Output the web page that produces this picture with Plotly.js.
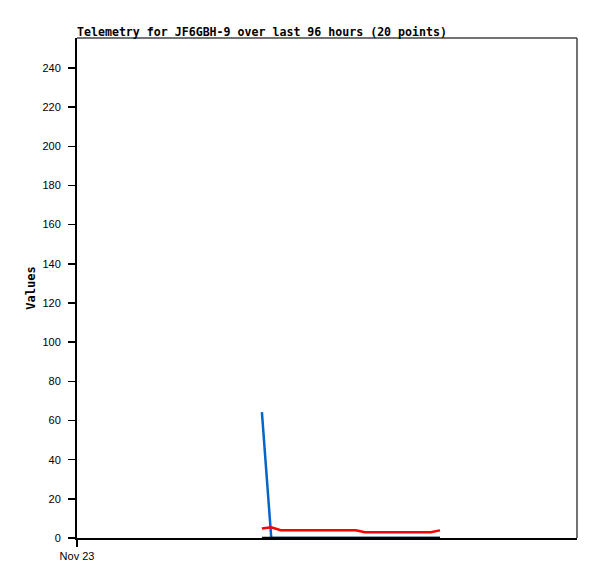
<!DOCTYPE html>
<html>
<head>
<meta charset="utf-8">
<script src="https://cdn.plot.ly/plotly-3.0.1.min.js"></script>
<style>html,body{margin:0;padding:0;background:#fff;}#chart{width:597px;height:579px;}</style>
</head>
<body>
<div id="chart"></div>
<script>
// Timestamps of the 20 telemetry points
const times = [
  "2023-11-24 11:30", "2023-11-24 13:18", "2023-11-24 15:06", "2023-11-24 16:54",
  "2023-11-24 18:42", "2023-11-24 20:30", "2023-11-24 22:18", "2023-11-25 00:06",
  "2023-11-25 01:54", "2023-11-25 03:42", "2023-11-25 05:30", "2023-11-25 07:18",
  "2023-11-25 09:06", "2023-11-25 10:54", "2023-11-25 12:42", "2023-11-25 14:30",
  "2023-11-25 16:18", "2023-11-25 18:06", "2023-11-25 19:54", "2023-11-25 21:42"
];
const blueValues = [64.3, 0, 0, 0, 0, 0, 0, 0, 0, 0, 0, 0, 0, 0, 0, 0, 0, 0, 0, 0];
const redValues  = [4.8, 5.5, 4.0, 3.9, 3.9, 3.9, 3.9, 3.9, 3.9, 3.9, 3.9, 2.9, 2.9, 2.9, 2.9, 2.9, 2.9, 2.9, 2.9, 3.9];
const blackValues = [0, 0, 0, 0, 0, 0, 0, 0, 0, 0, 0, 0, 0, 0, 0, 0, 0, 0, 0, 0];
const yTicks = [0, 20, 40, 60, 80, 100, 120, 140, 160, 180, 200, 220, 240];
const xTickVals = ["2023-11-23 00:00"];
const xTickText = ["Nov 23"];
const xRange = ["2023-11-23 00:00", "2023-11-27 00:00"];
const yRange = [0, 255.3];
const titleText = "Telemetry for JF6GBH-9 over last 96 hours (20 points)";
const yTitle = "Values";

const traces = [
  {x: times, y: blueValues, type: "scatter", mode: "lines", line: {color: "#0066cc", width: 2.5}, hoverinfo: "skip"},
  {x: times, y: redValues, type: "scatter", mode: "lines", line: {color: "#ff0000", width: 2.5}, hoverinfo: "skip"},
  {x: times, y: blackValues, type: "scatter", mode: "lines", line: {color: "#000000", width: 2.5}, hoverinfo: "skip"}
];

const tickFont = {family: "Liberation Sans, Arial, sans-serif", size: 11, color: "#000"};

const layout = {
  width: 597, height: 579,
  margin: {l: 77, r: 20, t: 38, b: 41, pad: 0},
  paper_bgcolor: "#ffffff", plot_bgcolor: "#ffffff",
  showlegend: false,
  font: tickFont,
  title: {
    text: "<b>" + titleText + "</b>",
    font: {family: "DejaVu Sans Mono, monospace", size: 11.6, color: "#000"},
    x: 0, xref: "paper", xanchor: "left",
    y: 1, yref: "paper", yanchor: "bottom", pad: {b: 2}
  },
  xaxis: {
    type: "date", range: xRange, tickmode: "array", tickvals: xTickVals, ticktext: xTickText,
    showgrid: false, zeroline: false, showline: true, linecolor: "#000", linewidth: 2,
    ticks: "outside", ticklen: 7, tickcolor: "#000", tickwidth: 1.5,
    tickfont: tickFont
  },
  yaxis: {
    range: yRange, tickmode: "array", tickvals: yTicks,
    showgrid: false, zeroline: false, showline: true, linecolor: "#000", linewidth: 2,
    ticks: "outside", ticklen: 7, tickcolor: "#000", tickwidth: 1.5,
    ticklabelstandoff: 5,
    tickfont: tickFont,
    title: {text: "<b>" + yTitle + "</b>", font: {family: "DejaVu Sans Mono, monospace", size: 12, color: "#000"}, standoff: 4}
  },
  shapes: [
    {type: "line", xref: "paper", yref: "paper", x0: 0, x1: 1, y0: 1, y1: 1, line: {color: "#444444", width: 1.5}},
    {type: "line", xref: "paper", yref: "paper", x0: 1, x1: 1, y0: 0, y1: 1, line: {color: "#444444", width: 1.5}}
  ]
};

Plotly.newPlot("chart", traces, layout, {staticPlot: true, displayModeBar: false});
</script>
</body>
</html>
